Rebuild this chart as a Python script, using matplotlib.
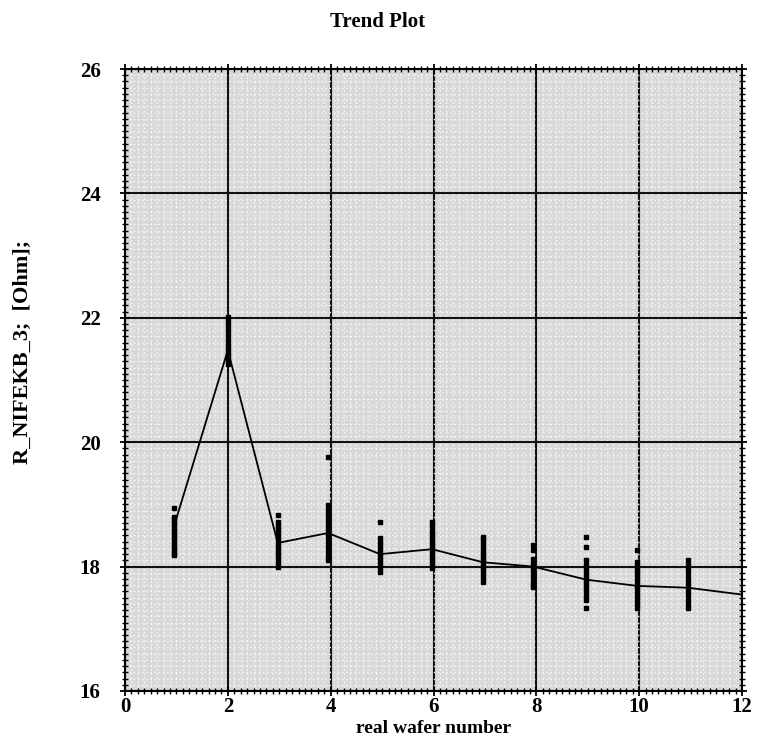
import numpy as np
from matplotlib import pyplot as plt
from matplotlib.ticker import MultipleLocator

# wafer positions
wafer_x = [0.95, 2.0, 2.97, 3.95, 4.96, 5.97, 6.96, 7.94, 8.97, 9.96, 10.95, 12.0]
mean_r = [18.64, 21.48, 18.38, 18.54, 18.20, 18.28, 18.07, 18.00, 17.79, 17.69, 17.66, 17.55]

# individual site readings per wafer
sites = [
    [18.94, 18.80, 18.76, 18.72, 18.68, 18.62, 18.57, 18.52, 18.47, 18.42, 18.37, 18.32, 18.27, 18.22, 18.19],
    [22.01, 21.95, 21.88, 21.80, 21.72, 21.64, 21.57, 21.50, 21.44, 21.38, 21.32, 21.26],
    [18.83, 18.72, 18.66, 18.60, 18.54, 18.48, 18.42, 18.36, 18.30, 18.24, 18.18, 18.12, 18.06, 18.00],
    [19.76, 18.99, 18.93, 18.86, 18.80, 18.74, 18.67, 18.60, 18.54, 18.48, 18.40, 18.32, 18.24, 18.16, 18.10],
    [18.72, 18.46, 18.40, 18.34, 18.28, 18.22, 18.16, 18.10, 18.04, 17.98, 17.92],
    [18.72, 18.65, 18.58, 18.52, 18.46, 18.40, 18.34, 18.28, 18.22, 18.16, 18.10, 18.04, 17.98],
    [18.48, 18.42, 18.36, 18.30, 18.24, 18.18, 18.12, 18.06, 18.00, 17.94, 17.88, 17.82, 17.76],
    [18.35, 18.27, 18.12, 18.06, 18.00, 17.94, 17.88, 17.82, 17.76, 17.70, 17.67],
    [18.48, 18.32, 18.11, 18.03, 17.97, 17.91, 17.85, 17.79, 17.73, 17.67, 17.60, 17.53, 17.46, 17.33],
    [18.27, 18.07, 18.01, 17.95, 17.89, 17.83, 17.77, 17.71, 17.65, 17.59, 17.53, 17.46, 17.40, 17.33],
    [18.10, 18.03, 17.96, 17.89, 17.82, 17.75, 17.68, 17.61, 17.54, 17.47, 17.40, 17.33],
]

plt.rcParams['font.family'] = ['Liberation Serif', 'DejaVu Serif']
plt.rcParams['font.weight'] = 'bold'

figure = plt.figure(figsize=(7.65, 7.38), dpi=100)
ax = figure.add_axes([0.1634, 0.0637, 0.8066, 0.8428])
ax.set_facecolor('#d8d8d8')

ax.set_xlim(0, 12)
ax.set_ylim(16, 26)
ax.xaxis.set_major_locator(MultipleLocator(2))
ax.yaxis.set_major_locator(MultipleLocator(2))
ax.xaxis.set_minor_locator(MultipleLocator(0.125))
ax.yaxis.set_minor_locator(MultipleLocator(0.1))

# fine white dotted background grid, then the black major grid
ax.grid(which='minor', color='white', linestyle=(0, (1, 2)), linewidth=1.0, alpha=0.9)
ax.grid(which='major', color='#111111', linewidth=1.5)
ax.set_axisbelow(True)

ax.tick_params(which='both', direction='inout', top=True, right=True, colors='black')
ax.tick_params(which='major', length=7, width=1.3, labelsize=15)
ax.tick_params(axis='x', which='major', pad=1)
ax.tick_params(axis='y', which='major', pad=14)
ax.tick_params(which='minor', length=4, width=1.0)
for lbl in ax.get_xticklabels() + ax.get_yticklabels():
    lbl.set_fontweight('bold')
for sp in ax.spines.values():
    sp.set_linewidth(1.5)

for x, vals in zip(wafer_x, sites):
    ax.plot([x] * len(vals), vals, 's', color='black', markersize=2.6, zorder=4)

ax.plot(wafer_x, mean_r, color='black', linewidth=1.3, zorder=5)

ax.set_xlabel('real wafer number', fontsize=14, fontweight='bold')
ax.xaxis.set_label_coords(0.5, -0.046)
ax.set_ylabel('R_NIFEKB_3;  [Ohm];', fontsize=16, fontweight='bold')
ax.yaxis.set_label_coords(-0.15, 0.545)
figure.suptitle('Trend Plot', x=0.493, y=0.97, va='center', fontsize=15, fontweight='bold')

plt.savefig('out.png', dpi=100)
